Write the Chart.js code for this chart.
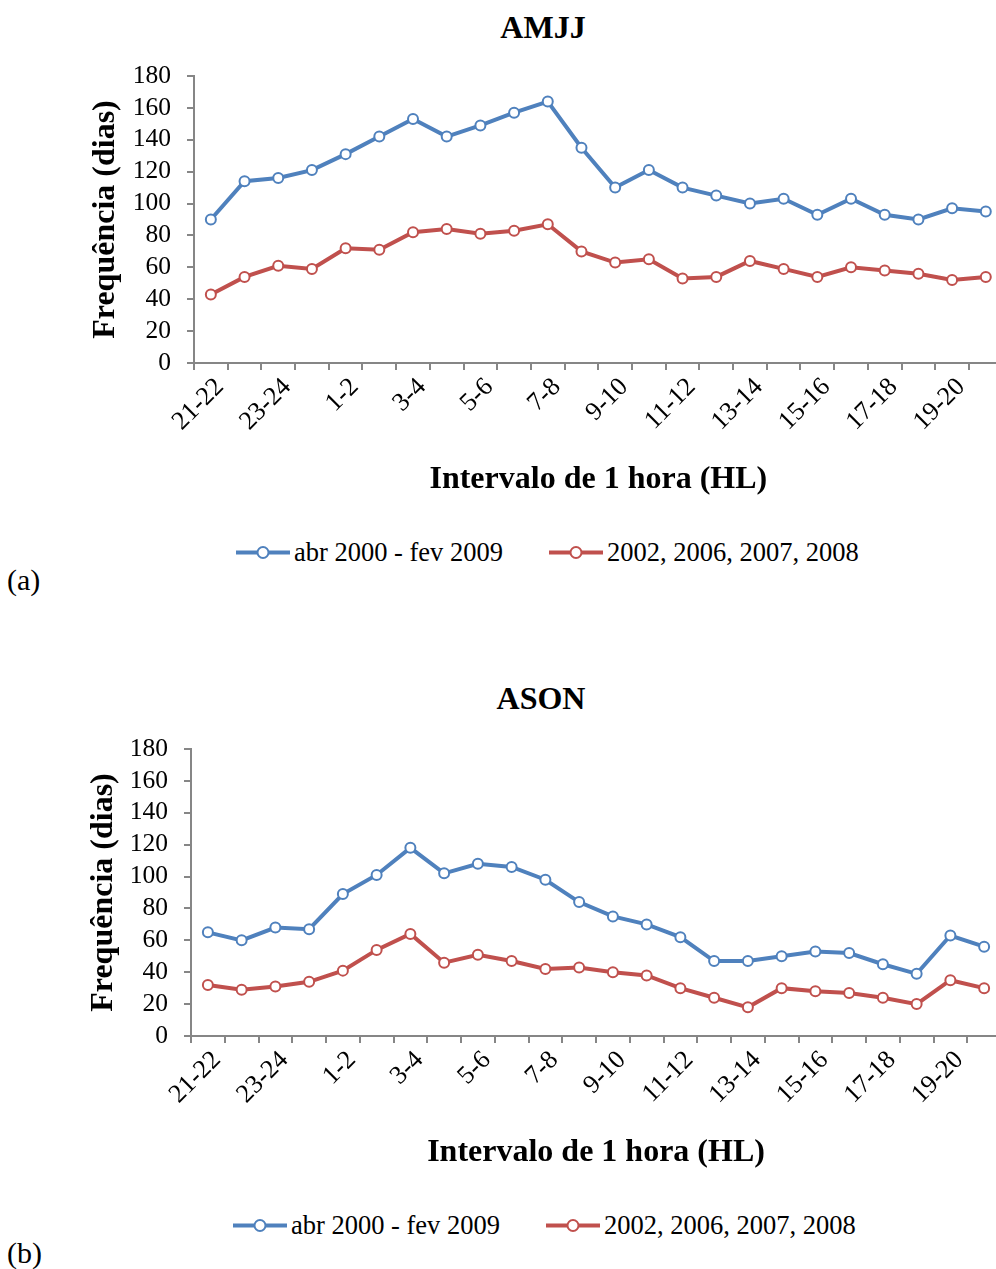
<!DOCTYPE html>
<html>
<head>
<meta charset="utf-8">
<script src="https://cdn.jsdelivr.net/npm/chart.js@4.4.1/dist/chart.umd.min.js"></script>
<style>
  html, body { margin: 0; padding: 0; background: #fff; }
  body { font-family: 'Liberation Serif', 'Times New Roman', serif; color: #000; }
  #page { position: relative; width: 996px; height: 1269px; overflow: hidden; }
  .panel { position: absolute; left: 0; }
  .title { position: absolute; font-weight: bold; font-size: 32px; line-height: 1; transform: translate(-50%, -50%); white-space: nowrap; }
  .legend { position: absolute; display: flex; align-items: center; font-size: 26.5px; white-space: nowrap; transform: translateY(-50%); }
  .legend .item { display: flex; align-items: center; }
  .legend .item + .item { margin-left: 46px; }
  .legend .swatch { position: relative; width: 54px; height: 4px; margin-right: 4px; }
  .legend .swatch i { position: absolute; left: 50%; top: 50%; width: 9px; height: 9px; border-radius: 50%; background: #fff; border: 2px solid; transform: translate(-50%, -50%); }
  .tag { position: absolute; font-size: 30px; transform: translateY(-50%); }
</style>
</head>
<body>
<div id="page">
  <div class="title" style="left:543px; top:27px">AMJJ</div>
  <canvas id="chartA" class="panel" style="top:0" width="1010" height="500"></canvas>
  <div class="legend" id="legendA" style="left:236px; top:552px"></div>
  <div class="tag" style="left:7px; top:580px">(a)</div>

  <div class="title" style="left:541px; top:698px">ASON</div>
  <canvas id="chartB" class="panel" style="top:673px" width="1010" height="500"></canvas>
  <div class="legend" id="legendB" style="left:233px; top:1225px"></div>
  <div class="tag" style="left:7px; top:1253px">(b)</div>
</div>
<script>
// categorias: intervalos de 1 hora (HL)
const hourLabels = ['21-22', '22-23', '23-24', '24-1', '1-2', '2-3', '3-4', '4-5',
  '5-6', '6-7', '7-8', '8-9', '9-10', '10-11', '11-12', '12-13',
  '13-14', '14-15', '15-16', '16-17', '17-18', '18-19', '19-20', '20-21'];

const seriesNames = ['abr 2000 - fev 2009', '2002, 2006, 2007, 2008'];

// AMJJ
const amjjAll = [90, 114, 116, 121, 131, 142, 153, 142, 149, 157, 164, 135,
  110, 121, 110, 105, 100, 103, 93, 103, 93, 90, 97, 95];
const amjjSel = [43, 54, 61, 59, 72, 71, 82, 84, 81, 83, 87, 70,
  63, 65, 53, 54, 64, 59, 54, 60, 58, 56, 52, 54];

// ASON
const asonAll = [65, 60, 68, 67, 89, 101, 118, 102, 108, 106, 98, 84,
  75, 70, 62, 47, 47, 50, 53, 52, 45, 39, 63, 56];
const asonSel = [32, 29, 31, 34, 41, 54, 64, 46, 51, 47, 42, 43,
  40, 38, 30, 24, 18, 30, 28, 27, 24, 20, 35, 30];

const yTicks = [0, 20, 40, 60, 80, 100, 120, 140, 160, 180];

const COLORS = ['#4F81BD', '#C0504D'];
const AXIS = '#868686';

Chart.defaults.font.family = "'Liberation Serif', 'Times New Roman', serif";
Chart.defaults.color = '#000';

function makeDataset(label, values, color) {
  return {
    label,
    data: values,
    borderColor: color,
    backgroundColor: '#fff',
    borderWidth: 4,
    pointRadius: 5,
    pointBorderWidth: 2,
    pointBorderColor: color,
    pointBackgroundColor: '#fff',
    tension: 0,
    fill: false,
    clip: false,
  };
}

function makeChart(canvasId, allVals, selVals, axisLeft, padRight, yTitlePad) {
  const ctx = document.getElementById(canvasId).getContext('2d');
  return new Chart(ctx, {
    type: 'line',
    data: {
      labels: hourLabels,
      datasets: [
        makeDataset(seriesNames[0], allVals, COLORS[0]),
        makeDataset(seriesNames[1], selVals, COLORS[1]),
      ],
    },
    options: {
      responsive: false,
      animation: false,
      layout: { padding: { top: 76, right: padRight, bottom: 0, left: 0 } },
      plugins: {
        legend: { display: false },
        title: { display: false },
        tooltip: { enabled: false },
      },
      scales: {
        x: {
          offset: true,
          grid: { offset: true, drawOnChartArea: false, drawTicks: true, tickLength: 7, color: AXIS, lineWidth: 2 },
          border: { display: true, color: AXIS, width: 2 },
          ticks: {
            autoSkip: false, minRotation: 45, maxRotation: 45, padding: 2, labelOffset: 9,
            font: { size: 26 },
            callback: (v, i) => (i % 2 === 0 ? hourLabels[i] : ''),
          },
          title: {
            display: true, text: 'Intervalo de 1 hora (HL)',
            font: { size: 32, weight: 'bold' }, padding: { top: 0, bottom: 1 },
          },
          afterFit: s => { s.height = 137; },
        },
        y: {
          min: 0, max: 180,
          afterBuildTicks: s => { s.ticks = yTicks.map(v => ({ value: v })); },
          ticks: { autoSkip: false, padding: 16, font: { size: 25.5 } },
          grid: { drawOnChartArea: false, drawTicks: true, tickLength: 7, color: AXIS, lineWidth: 2 },
          border: { display: true, color: AXIS, width: 2 },
          title: {
            display: true, text: 'Frequência (dias)',
            font: { size: 32, weight: 'bold' }, padding: { top: yTitlePad, bottom: 0 },
          },
          afterFit: s => { s.width = axisLeft; },
        },
      },
    },
  });
}

function makeLegend(elId) {
  const el = document.getElementById(elId);
  seriesNames.forEach((name, i) => {
    const item = document.createElement('span');
    item.className = 'item';
    const sw = document.createElement('span');
    sw.className = 'swatch';
    sw.style.background = COLORS[i];
    const dot = document.createElement('i');
    dot.style.borderColor = COLORS[i];
    sw.appendChild(dot);
    const txt = document.createElement('span');
    txt.textContent = name;
    item.appendChild(sw);
    item.appendChild(txt);
    el.appendChild(item);
  });
}

makeChart('chartA', amjjAll, amjjSel, 194, 6, 87);
makeChart('chartB', asonAll, asonSel, 191, 9, 85);
makeLegend('legendA');
makeLegend('legendB');
</script>
</body>
</html>
